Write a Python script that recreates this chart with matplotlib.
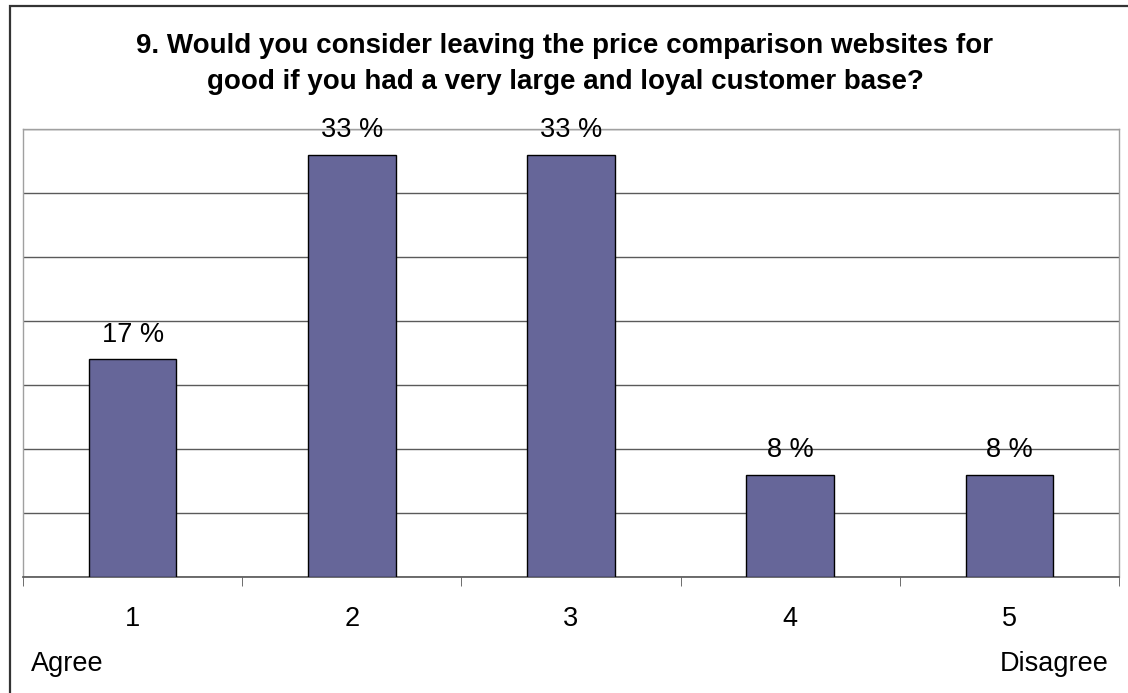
import matplotlib.pyplot as plt
from matplotlib.patches import Rectangle
from matplotlib.ticker import FixedLocator

plt.rcParams['font.family'] = ['Liberation Sans', 'DejaVu Sans']

categories = ["1", "2", "3", "4", "5"]
percent = [17, 33, 33, 8, 8]
scale_labels = ["Agree", "Disagree"]
title = ("9. Would you consider leaving the price comparison websites for\n"
         "good if you had a very large and loyal customer base?")

W, H = 1128, 693
fig = plt.figure(figsize=(W / 100, H / 100), dpi=100)
fig.patch.set_facecolor("white")

# outer chart border (runs off the right and bottom edges)
fig.add_artist(Rectangle((10 / W, -0.5), 2, (H - 6) / H + 0.5,
                         transform=fig.transFigure, fill=False,
                         edgecolor="#333333", linewidth=1.6))

left, right, top, bottom = 23, 1119, 129, 577
ax = fig.add_axes([left / W, (H - bottom) / H, (right - left) / W, (bottom - top) / H])

x = list(range(len(categories)))
ax.bar(x, percent, width=0.4, color="#666699", edgecolor="black", linewidth=1, zorder=3)

for xi, v in zip(x, percent):
    ax.annotate(f"{v} %", (xi, v), xytext=(0, 8), textcoords="offset points",
                ha="center", va="bottom", fontsize=19.5, zorder=4)

ax.set_xlim(-0.5, len(categories) - 0.5)
ax.set_ylim(0, 35)
ax.set_yticks(range(0, 36, 5))
ax.yaxis.grid(True, color="#5a5a5a", linewidth=1, zorder=0)
ax.tick_params(axis="y", left=False, labelleft=False)

ax.set_xticks(x)
ax.set_xticklabels(categories, fontsize=19.5)
ax.xaxis.set_minor_locator(FixedLocator([i - 0.5 for i in range(len(categories) + 1)]))
ax.tick_params(axis="x", which="major", length=0, pad=21)
ax.tick_params(axis="x", which="minor", length=6.5, color="#555555", direction="out")

for side in ["left", "top", "right"]:
    ax.spines[side].set_color("#a0a0a0")
    ax.spines[side].set_linewidth(1)
ax.spines["bottom"].set_color("#555555")
ax.spines["bottom"].set_linewidth(1.2)

fig.text(565 / W, 1 - 64 / H, title, ha="center", va="center", fontsize=20,
         fontweight="bold", linespacing=1.48)
fig.text(31 / W, 1 - 671 / H, scale_labels[0], ha="left", va="baseline", fontsize=19.5)
fig.text(1109 / W, 1 - 671 / H, scale_labels[1], ha="right", va="baseline", fontsize=19.5)

fig.savefig("out.png", dpi=100, facecolor="white")
